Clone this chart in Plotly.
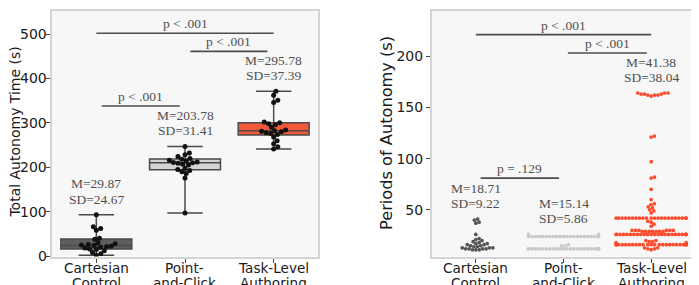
import numpy as np
import plotly.graph_objects as go

# ---------------- data ----------------
categories = [("Cartesian", "Control"), ("Point-", "and-Click"), ("Task-Level", "Authoring")]
y_titles = ["Total Autonomy Time (s)", "Periods of Autonomy (s)"]

# Total autonomy time (s) per participant
cartesian_time = [2, 5, 8, 12, 15, 16, 18, 20, 21, 22, 24, 25, 26, 28, 30, 38, 40, 58, 62, 66, 93]
point_time = [97, 176, 186, 190, 193, 195, 198, 205, 207, 209, 210, 211, 212, 214, 216, 218, 220, 224, 228, 232, 247]
task_time = [241, 246, 253, 260, 268, 274, 276, 278, 280, 281, 282, 284, 290, 296, 298, 300, 302, 346, 351, 362, 371]

# Periods of autonomy (s)
cartesian_periods = [11, 11, 11, 12, 12, 12, 12, 13, 13, 13, 14, 14, 15, 15, 16, 16, 17, 17,
                     18, 19, 20, 21, 22, 26, 37, 38, 40, 41]
point_periods = [12, 12, 12, 12, 12, 12, 12, 12, 12, 12, 12, 12, 12, 12, 12, 12, 12, 12, 12, 12,
                 12, 12, 12, 12, 12, 12, 15, 15, 16,
                 24, 24, 24, 24, 24, 24, 24, 24, 24, 24, 24, 24, 24, 24, 24, 24, 24, 24, 24, 24,
                 24, 24, 26, 26]
task_periods = [11, 12, 12, 13, 13,
                16, 16, 16, 16, 16, 16, 16, 16, 16, 16, 16, 16, 16, 16, 16, 16, 16, 16, 16, 16,
                16, 16, 16, 16,
                18, 18, 19, 19, 20, 20,
                26, 26, 26, 26, 26, 26, 26, 26, 26, 26, 26, 26, 26, 26, 26, 26, 26, 26, 26, 26,
                26, 26, 26, 26,
                29, 29, 29, 29, 29, 29, 29, 30, 30, 30, 30, 30, 30,
                34, 36, 38, 39,
                42, 42, 42, 42, 42, 42, 42, 42, 42, 42, 42, 42, 42, 42, 42, 42, 42, 42, 42, 42,
                42, 42,
                47, 49, 50, 52, 53, 55, 56, 60,
                70, 81, 82, 97, 121, 122,
                161, 162, 162, 162, 163, 163, 163, 164, 164, 164]

time_stats = [("M=29.87", "SD=24.67"), ("M=203.78", "SD=31.41"), ("M=295.78", "SD=37.39")]
period_stats = [("M=18.71", "SD=9.22"), ("M=15.14", "SD=5.86"), ("M=41.38", "SD=38.04")]

# significance brackets: (from, to, height, label)
time_sig = [(0, 2, 502, "p < .001"), (1.06, 1.93, 461, "p < .001"), (0.06, 0.94, 338, "p < .001")]
period_sig = [(0, 2, 221, "p < .001"), (1.05, 1.95, 203, "p < .001"), (0.055, 0.948, 81, "p = .129")]

time_ticks = [0, 100, 200, 300, 400, 500]
period_ticks = [50, 100, 150, 200]

# ---------------- styling ----------------
PAGE_W, PAGE_H = 699, 285
OFF_X, OFF_Y = 8, 0  # page body offset seen in the photograph
W, H = PAGE_W - OFF_X, PAGE_H - OFF_Y


def px_x(p):
    return (p - OFF_X) / W


def px_y(p):
    return (H - (p - OFF_Y)) / H


box_fill = ["#5e5e5e", "#d3d3d3", "#f2593b"]
box_line = "#4a4a4a"
swarm_colors = ["#555555", "#c9c9c9", "#ff4a2b"]
left_dom = [px_x(52), px_x(318)]
right_dom = [px_x(432), px_x(695)]
y_dom = [px_y(248.5), px_y(3)]
left_range = [-1, 552]
right_range = [4.5, 244]
x_range = [-0.5, 2.5]
ann_font = dict(family="Liberation Serif, serif", size=13.5, color="#505050")
axis_font = dict(family="DejaVu Sans", size=14, color="#1a1a1a")
cat_font = dict(family="DejaVu Sans", size=13.6, color="#1a1a1a")
title_font_left = dict(family="DejaVu Sans", size=14, color="#1a1a1a")
title_font_right = dict(family="DejaVu Sans", size=16.2, color="#1a1a1a")


def swarm_offsets(values, px_per_x, px_per_y, diam, half_width_px):
    vals = np.asarray(values, float)
    order = np.argsort(vals, kind="mergesort")
    placed = []
    out = np.zeros(len(vals))
    for idx in order:
        y = vals[idx] * px_per_y
        neigh = [(px, py) for px, py in placed if abs(py - y) < diam]
        cands = [0.0]
        for px, py in neigh:
            d = np.sqrt(max(diam ** 2 - (py - y) ** 2, 0.0)) * 1.02
            cands += [px + d, px - d]
        cands.sort(key=abs)
        chosen = cands[-1]
        for c in cands:
            if all((c - px) ** 2 + (y - py) ** 2 >= diam ** 2 * 0.995 for px, py in neigh):
                chosen = c
                break
        placed.append((chosen, y))
        out[idx] = chosen
    out = np.clip(out, -half_width_px, half_width_px)
    return out / px_per_x


fig = go.Figure()

lpx_x = (left_dom[1] - left_dom[0]) * W / (x_range[1] - x_range[0])
lpx_y = (y_dom[1] - y_dom[0]) * H / (left_range[1] - left_range[0])
rpx_x = (right_dom[1] - right_dom[0]) * W / (x_range[1] - x_range[0])
rpx_y = (y_dom[1] - y_dom[0]) * H / (right_range[1] - right_range[0])

time_data = [cartesian_time, point_time, task_time]
period_data = [cartesian_periods, point_periods, task_periods]

for i, vals in enumerate(time_data):
    fig.add_trace(go.Box(
        x=[i] * len(vals), y=vals, width=0.8, whiskerwidth=0.5,
        fillcolor=box_fill[i], line=dict(color=box_line, width=1.5),
        boxpoints=False, quartilemethod="linear", showlegend=False,
        xaxis="x", yaxis="y", hoverinfo="skip"))
for i, vals in enumerate(time_data):
    off = swarm_offsets(vals, lpx_x, lpx_y, 4.6, 0.4 * lpx_x)
    fig.add_trace(go.Scatter(
        x=i + off, y=vals, mode="markers",
        marker=dict(size=5, color="#111111"),
        showlegend=False, xaxis="x", yaxis="y"))

for i, vals in enumerate(period_data):
    off = swarm_offsets(vals, rpx_x, rpx_y, 3.4, 0.4 * rpx_x)
    fig.add_trace(go.Scatter(
        x=i + off, y=vals, mode="markers",
        marker=dict(size=3.7, color=swarm_colors[i]),
        showlegend=False, xaxis="x2", yaxis="y2"))

shapes = []
annotations = []
for (a, b, y, lab), xr, yr in [(s, "x", "y") for s in time_sig] + [(s, "x2", "y2") for s in period_sig]:
    shapes.append(dict(type="line", xref=xr, yref=yr, x0=a, x1=b, y0=y, y1=y,
                       line=dict(color="#4d4d4d", width=1.6)))
    annotations.append(dict(xref=xr, yref=yr, x=(a + b) / 2, y=y, text=lab, showarrow=False,
                            yanchor="middle", yshift=9.5, font=ann_font))

for data, stats, xr, yr in [(time_data, time_stats, "x", "y"), (period_data, period_stats, "x2", "y2")]:
    for i, (vals, (m, sd)) in enumerate(zip(data, stats)):
        annotations.append(dict(xref=xr, yref=yr, x=i, y=max(vals), text=sd, showarrow=False,
                                yanchor="middle", yshift=15.5, font=ann_font))
        annotations.append(dict(xref=xr, yref=yr, x=i, y=max(vals), text=m, showarrow=False,
                                yanchor="middle", yshift=31, font=ann_font))

# category labels (two lines, tight spacing)
for dom in (left_dom, right_dom):
    for i, (l1, l2) in enumerate(categories):
        xp = dom[0] + (i - x_range[0]) / (x_range[1] - x_range[0]) * (dom[1] - dom[0])
        for txt, ypx in ((l1, 259.8), (l2, 275.2)):
            annotations.append(dict(xref="paper", yref="paper", x=xp, y=px_y(ypx), text=txt,
                                    showarrow=False, xanchor="center", yanchor="middle",
                                    font=cat_font))

# left y tick labels placed right next to the tick marks
for t in time_ticks:
    annotations.append(dict(xref="paper", yref="y", x=px_x(48.5), y=t, text=str(t),
                            showarrow=False, xanchor="right", yanchor="middle", font=axis_font))

# y-axis titles
annotations.append(dict(xref="paper", yref="paper", x=px_x(14.6), y=px_y(124), text=y_titles[0],
                        textangle=-90, showarrow=False, xanchor="center", yanchor="middle",
                        font=title_font_left))
annotations.append(dict(xref="paper", yref="paper", x=px_x(386), y=px_y(125), text=y_titles[1],
                        textangle=-90, showarrow=False, xanchor="center", yanchor="middle",
                        font=title_font_right))

common_x = dict(range=x_range, tickmode="array", tickvals=[0, 1, 2], ticktext=["", "", ""],
                showgrid=False, zeroline=False, showline=True, mirror=True,
                linecolor="#d4d4d4", linewidth=2, ticks="outside", ticklen=4,
                tickcolor="#444444", tickfont=axis_font)
common_y = dict(showgrid=False, zeroline=False, showline=True, mirror=True,
                linecolor="#d4d4d4", linewidth=2, ticks="outside", ticklen=4,
                tickcolor="#444444", tickfont=axis_font, tickmode="array", domain=y_dom)

fig.update_layout(
    width=W, height=H,
    margin=dict(l=0, r=0, t=0, b=0),
    paper_bgcolor="white", plot_bgcolor="#f6f7f6",
    xaxis=dict(domain=left_dom, anchor="y", **common_x),
    xaxis2=dict(domain=right_dom, anchor="y2", **common_x),
    yaxis=dict(anchor="x", range=left_range, tickvals=time_ticks, showticklabels=False, **common_y),
    yaxis2=dict(anchor="x2", range=right_range, tickvals=period_ticks, **common_y),
    shapes=shapes, annotations=annotations,
)

fig.write_html("out.html", config={"displayModeBar": False})
